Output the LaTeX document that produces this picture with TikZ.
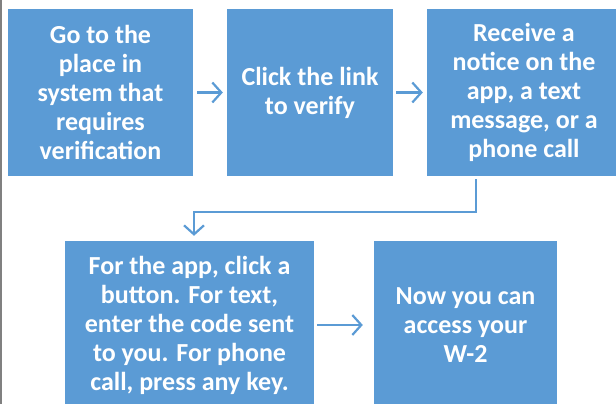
\documentclass[tikz,border=0pt]{standalone}
\usepackage{fontspec}
\setmainfont{Carlito}
\usetikzlibrary{arrows.meta,calc}
\definecolor{stepblue}{HTML}{5B9BD5}
\begin{document}
\begin{tikzpicture}[x=1pt,y=-1pt,
  stepbox/.style={fill=stepblue, draw=none, text=white, inner sep=0pt,
    font=\bfseries\fontsize{26}{29}\selectfont, align=center},
  flow/.style={draw=stepblue, line width=2.2pt,
    -{Straight Barb[length=9pt,width=20pt]}}]
\useasboundingbox (0,0) rectangle (616,404);
\begin{scope}
  \clip (0,0) rectangle (616,404);
  % top row
  \node[stepbox, minimum width=185pt, minimum height=167pt] (go) at (100.5,92.5)
    {Go to the\\place in\\system that\\requires\\verification};
  \node[stepbox, minimum width=166pt, minimum height=167pt] (link) at (310,92.5)
    {Click the link\\to verify};
  \node[stepbox, minimum width=194pt, minimum height=167pt] (notice) at (524,92.5)
    {Receive a\\notice on the\\app, a text\\message, or a\\phone call};
  % bottom row
  \node[stepbox, minimum width=249pt, minimum height=168pt] (action) at (189.5,325)
    {For the app, click a\\button. For text,\\enter the code sent\\to you. For phone\\call, press any key.};
  \node[stepbox, minimum width=183pt, minimum height=168pt] (done) at (465.5,325)
    {Now you can\\access your\\W-2};
\end{scope}
% page edge line on the left
\draw[gray, line width=2pt] (1,0) -- (1,404);
% connectors
\draw[flow] ([xshift=4pt]go.east) -- ([xshift=-4pt]link.west);
\draw[flow] ([xshift=3pt]link.east) -- ([xshift=-4pt]notice.west);
\coordinate (bend) at (476,212);
\coordinate (drop) at (194,212);
\draw[flow] ($(bend |- notice.south)+(0,3)$) -- (bend) -- (drop)
  -- ($(drop |- action.north)+(0,-5)$);
\draw[flow] ([xshift=3pt]action.east) -- ([xshift=-11pt]done.west);
\end{tikzpicture}
\end{document}
